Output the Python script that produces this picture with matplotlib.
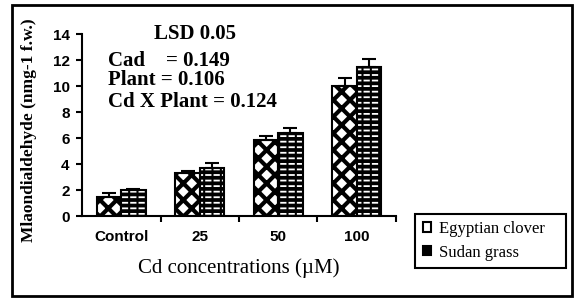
import matplotlib.pyplot as plt
import numpy as np
from matplotlib.patches import Rectangle

# Malondialdehyde content under Cd treatments
groups = ["Control", "25", "50", "100"]
clover = [1.5, 3.3, 5.85, 10.0]
clover_err = [0.25, 0.2, 0.3, 0.6]
grass = [2.0, 3.7, 6.4, 11.45]
grass_err = [0.1, 0.4, 0.4, 0.6]

fig = plt.figure(figsize=(5.87, 3.05), dpi=100)
ax = fig.add_axes([0.1397, 0.2918, 0.5349, 0.5967])

x = np.arange(len(groups))
w = 0.31

# Egyptian clover: white with black diamonds
plt.rcParams["hatch.linewidth"] = 3.0
ax.bar(x - w / 2, clover, w, color="white", edgecolor="black", hatch="xx", linewidth=0)
ax.bar(x - w / 2, clover, w, fill=False, edgecolor="black", linewidth=1.5)

# Sudan grass: black with white dashes
plt.rcParams["hatch.linewidth"] = 1.3
ax.bar(x + w / 2, grass, w, color="black", edgecolor="white", hatch="---", linewidth=0)
plt.rcParams["hatch.linewidth"] = 1.5
ax.bar(x + w / 2, grass, w, fill=False, edgecolor="black", hatch="||", linewidth=1.5)

ax.errorbar(x - w / 2, clover, yerr=[np.zeros(4), clover_err], fmt="none",
            ecolor="black", elinewidth=1.5, capsize=5, capthick=1.5)
ax.errorbar(x + w / 2, grass, yerr=[np.zeros(4), grass_err], fmt="none",
            ecolor="black", elinewidth=1.5, capsize=5, capthick=1.5)

ax.set_xlim(-0.5, 3.5)
ax.set_ylim(0, 14)
ax.set_yticks(range(0, 15, 2))
ax.set_xticks(x)
ax.set_xticklabels(groups)
ax.set_xticks(np.arange(0.5, 4, 1), minor=True)
ax.tick_params(axis="x", which="major", length=0, pad=10)
ax.tick_params(axis="x", which="minor", length=4, width=1.5, direction="out")
ax.tick_params(axis="y", length=4, width=1.5, direction="out", pad=5)
for lab in ax.get_xticklabels() + ax.get_yticklabels():
    lab.set_fontfamily("Liberation Sans")
    lab.set_fontweight("bold")
    lab.set_fontsize(11)

for s in ["top", "right"]:
    ax.spines[s].set_visible(False)
for s in ["left", "bottom"]:
    ax.spines[s].set_linewidth(1.5)

ax.set_xlabel("Cd concentrations (\u00b5M)", family="Liberation Serif", fontsize=15, labelpad=10)
ax.set_ylabel("Mlaondialdehyde (nmg-1 f.w.)", family="Liberation Serif", fontsize=12.5,
              fontweight="bold", va="center")
ax.yaxis.set_label_coords(-0.169, 0.47)

# LSD annotation
tkw = dict(family="Liberation Serif", fontweight="bold", fontsize=15, transform=fig.transFigure)
fig.text(0.332, 0.89, "LSD 0.05", ha="center", va="center", **tkw)
fig.text(0.184, 0.80, "Cad    = 0.149", ha="left", va="center", **tkw)
fig.text(0.184, 0.737, "Plant = 0.106", ha="left", va="center", **tkw)
fig.text(0.184, 0.665, "Cd X Plant = 0.124", ha="left", va="center", **tkw)

# legend handles
h1 = Rectangle((0, 0), 1, 1, facecolor="white", edgecolor="black", linewidth=1.5)
h2 = Rectangle((0, 0), 1, 1, facecolor="black", edgecolor="black", linewidth=1.5)
leg = fig.legend([h1, h2], ["Egyptian clover", "Sudan grass"], loc="lower left",
                 bbox_to_anchor=(0.707, 0.121, 0.258, 0.171), mode="expand",
                 bbox_transform=fig.transFigure, fancybox=False, framealpha=1,
                 edgecolor="black", handlelength=0.5, handleheight=0.5,
                 handletextpad=0.5, borderaxespad=0, borderpad=0.45,
                 labelspacing=0.45, prop={"family": "Liberation Serif", "size": 12})
leg.get_frame().set_linewidth(1.5)

# outer frame
fig.patches.append(Rectangle((0.02, 0.03), 0.955, 0.953, transform=fig.transFigure,
                             fill=False, edgecolor="black", linewidth=2))

fig.savefig("out.png", dpi=100)
